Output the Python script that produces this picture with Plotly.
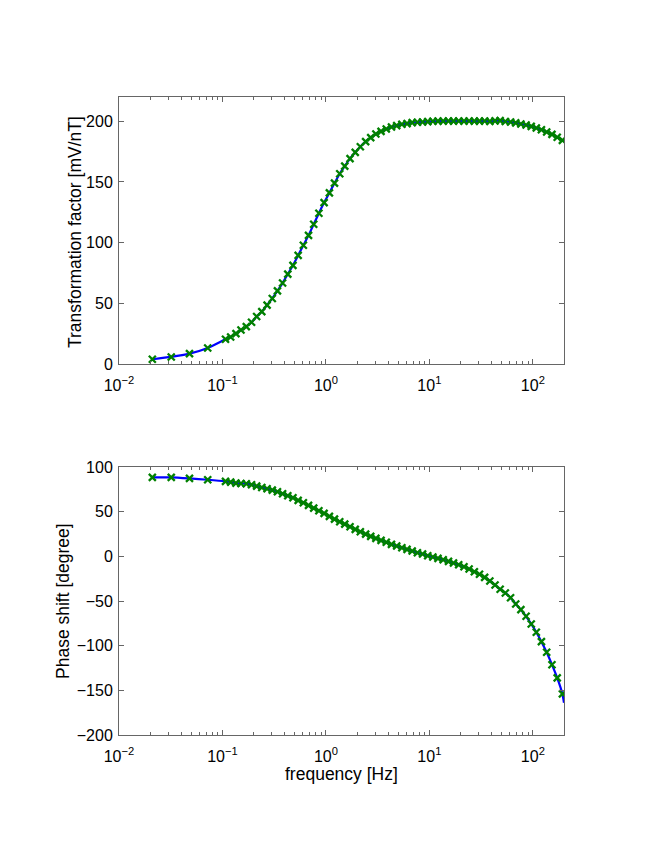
import plotly.graph_objects as go

# ---- data ----
freq = [0.021, 0.032, 0.048, 0.072,
        0.107, 0.120, 0.135, 0.151, 0.170, 0.191, 0.214, 0.240, 0.270, 0.303,
        0.340, 0.381, 0.428, 0.480, 0.539, 0.605, 0.679, 0.762, 0.855, 0.960,
        1.08, 1.21, 1.36, 1.52, 1.71, 1.92, 2.15, 2.42, 2.71, 3.04,
        3.41, 3.83, 4.30, 4.83, 5.42, 6.08, 6.82, 7.66, 8.59, 9.64,
        10.8, 12.1, 13.6, 15.3, 17.1, 19.2, 21.6, 24.2, 27.2, 30.5,
        34.2, 38.4, 43.1, 48.3, 54.2, 60.9, 68.3, 76.6, 86.0, 96.5,
        108, 121, 136, 153, 172, 193]

transformation = [3.9, 5.8, 8.5, 13.2,
                  20.4, 22.3, 25.0, 28.0, 30.8, 34.4, 39.1, 43.2, 48.5, 54.0,
                  60.3, 66.7, 74.1, 81.3, 89.5, 97.8, 106.0, 115.1, 124.2, 133.0,
                  141.0, 149.0, 156.8, 163.0, 169.2, 174.4, 179.0, 183.2, 186.5, 189.5,
                  191.7, 193.6, 195.3, 196.4, 197.5, 198.1, 198.9, 199.2, 199.4, 199.7,
                  200.0, 200.1, 200.1, 200.2, 200.1, 200.2, 200.1, 200.2, 200.1, 200.1,
                  200.2, 199.9, 200.3, 200.5, 199.8, 199.4, 198.7, 197.8, 196.9, 195.8,
                  194.5, 193.0, 191.2, 189.2, 186.8, 184.3]

phase = [88.4, 88.4, 87.2, 85.7,
         83.9, 83.1, 82.0, 81.6, 81.3, 80.1, 78.6, 77.1, 75.6, 74.1,
         72.3, 70.0, 67.8, 65.6, 62.6, 60.0, 57.0, 54.0, 51.0, 48.1,
         44.7, 41.7, 38.7, 36.1, 33.1, 30.2, 27.5, 24.9, 22.4, 20.1,
         17.9, 15.7, 13.4, 11.5, 9.6, 7.8, 5.9, 4.0, 2.6, 0.7,
         -0.8, -2.3, -3.8, -5.6, -7.5, -9.4, -11.6, -14.2, -17.2, -20.1,
         -23.5, -27.6, -32.1, -36.9, -41.0, -46.3, -53.4, -59.7, -67.1, -75.7,
         -85.0, -95.5, -107.4, -121.3, -136.1, -154.0]

# model curve (blue line) continues to the right edge
model_end_freq = 200
model_end_transformation = 183.5
model_end_phase = -164.0

xtick_vals = [0.01, 0.1, 1, 10, 100]
xtick_text = ["10<sup>\u22122</sup>", "10<sup>\u22121</sup>", "10<sup>0</sup>",
              "10<sup>1</sup>", "10<sup>2</sup>"]
minor_vals = [m * d for d in [0.01, 0.1, 1, 10, 100] for m in range(2, 10) if m * d <= 200]

amp_ticks = [0, 50, 100, 150, 200]
phase_ticks = [-200, -150, -100, -50, 0, 50, 100]
phase_tick_text = ["\u2212200", "\u2212150", "\u2212100", "\u221250", "0", "50", "100"]

amp_label = "Transformation factor [mV/nT]"
phase_label = "Phase shift [degree]"
freq_label = "frequency [Hz]"

model_freq = freq + [model_end_freq]
model_amp = transformation + [model_end_transformation]
model_phase = phase + [model_end_phase]

FONT = "Liberation Sans, Arial, Helvetica, sans-serif"
AX = "#666666"
TICKSIZE = 16
TITLESIZE = 17.5

fig = go.Figure()
for xa, ya, ym, yv in [("x", "y", model_amp, transformation), ("x2", "y2", model_phase, phase)]:
    fig.add_trace(go.Scatter(x=model_freq, y=ym, mode="lines",
                             line=dict(color="#0000ff", width=2.2, shape="spline", smoothing=0.6),
                             xaxis=xa, yaxis=ya, showlegend=False))
    fig.add_trace(go.Scatter(x=freq, y=yv, mode="markers",
                             marker=dict(symbol="x-thin", size=7,
                                         line=dict(color="#008000", width=2.3), color="#008000"),
                             xaxis=xa, yaxis=ya, showlegend=False))


def xaxis_cfg(anchor):
    return dict(type="log", range=[-2, 2.30103], anchor=anchor,
                tickmode="array", tickvals=xtick_vals, ticktext=xtick_text,
                ticks="inside", ticklen=5, tickcolor=AX, tickwidth=1,
                showline=True, linecolor=AX, linewidth=1, mirror="ticks",
                showgrid=False, zeroline=False, ticklabelstandoff=7,
                minor=dict(tickmode="array", tickvals=minor_vals, ticks="inside",
                           ticklen=3, tickcolor=AX, tickwidth=1, showgrid=False),
                tickfont=dict(family=FONT, size=TICKSIZE, color="#000"),
                domain=[0, 1])


def yaxis_cfg(anchor, rng, tv, tt, dom):
    return dict(range=rng, anchor=anchor, domain=dom,
                tickmode="array", tickvals=tv, ticktext=tt,
                ticks="inside", ticklen=5, tickcolor=AX, tickwidth=1,
                showline=True, linecolor=AX, linewidth=1, mirror="ticks",
                showgrid=False, zeroline=False, ticklabelstandoff=2,
                tickfont=dict(family=FONT, size=TICKSIZE, color="#000"))


# plot area: x 119..564, y 97..735 (page body adds 8px offset)
PL, PT, PW, PH = 119, 97, 445, 638
top_dom = [(735 - 364) / PH, 1]
bot_dom = [0, (735 - 467) / PH]

fig.update_layout(
    width=664, height=860,
    paper_bgcolor="white", plot_bgcolor="white",
    margin=dict(l=PL - 8, r=664 - PL - PW + 8, t=PT - 8, b=860 - PT - PH + 8),
    xaxis=xaxis_cfg("y"),
    yaxis=yaxis_cfg("x", [0, 220], amp_ticks, [str(v) for v in amp_ticks], top_dom),
    xaxis2=xaxis_cfg("y2"),
    yaxis2=yaxis_cfg("x2", [-200, 100], phase_ticks, phase_tick_text, bot_dom),
    font=dict(family=FONT),
    annotations=[
        dict(text=amp_label, xref="paper", yref="paper",
             x=(75 - PL) / PW, y=(735 - 232) / PH, xanchor="center", yanchor="middle",
             textangle=-90, showarrow=False,
             font=dict(family=FONT, size=TITLESIZE, color="#000")),
        dict(text=phase_label, xref="paper", yref="paper",
             x=(63 - PL) / PW, y=(735 - 601) / PH, xanchor="center", yanchor="middle",
             textangle=-90, showarrow=False,
             font=dict(family=FONT, size=TITLESIZE, color="#000")),
        dict(text=freq_label, xref="paper", yref="paper",
             x=(341 - PL) / PW, y=(735 - 774) / PH, xanchor="center", yanchor="middle",
             showarrow=False,
             font=dict(family=FONT, size=TITLESIZE, color="#000")),
    ],
)

fig.write_html("out.html")
